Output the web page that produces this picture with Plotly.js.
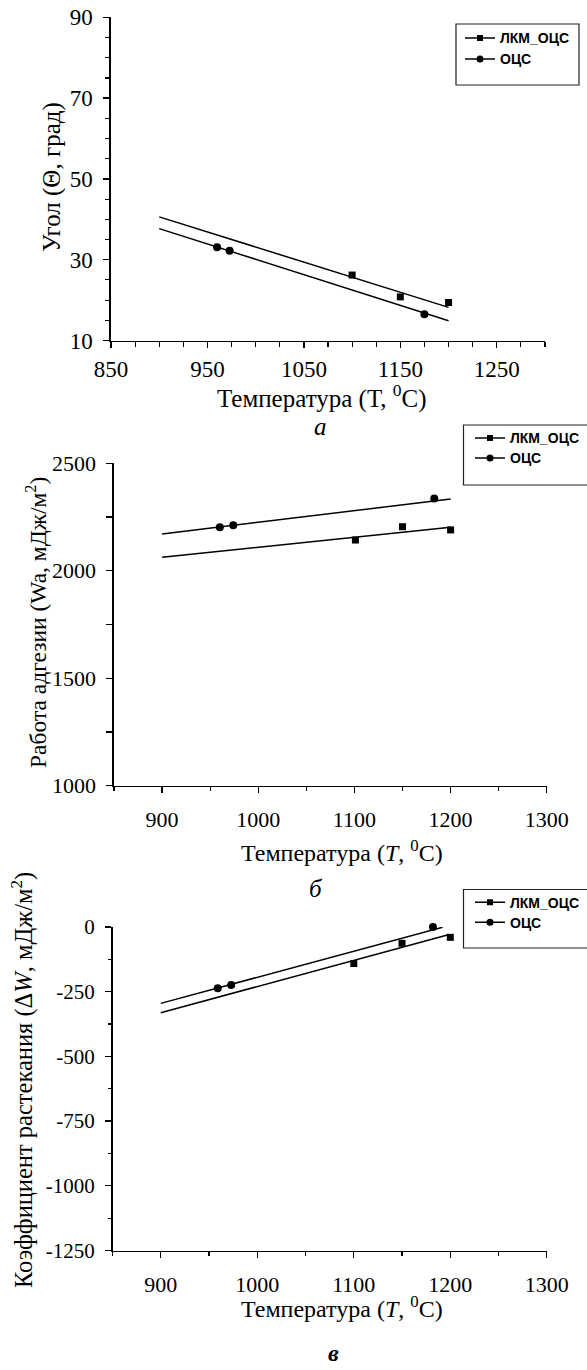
<!DOCTYPE html>
<html>
<head>
<meta charset="utf-8">
<script src="https://cdn.plot.ly/plotly-3.0.1.min.js"></script>
<style>
html,body{margin:0;padding:0;background:#fff;}
#chart{width:587px;height:1370px;}
</style>
</head>
<body>
<div id="chart"></div>
<script>
// ---------- Data ----------
const seriesNames = ["ЛКМ_ОЦС", "ОЦС"];

// Panel а: contact angle vs temperature
const tempA_lkm = [1100, 1150, 1200];
const angleA_lkm = [26.2, 20.8, 19.4];
const tempA_ocs = [960, 973, 1175];
const angleA_ocs = [33.1, 32.2, 16.5];
const fitTempA = [900, 1200];
const fitAngleA_lkm = [40.6, 18.2];
const fitAngleA_ocs = [37.7, 14.9];
const xTicksA = [850, 950, 1050, 1150, 1250];
const yTicksA = [10, 30, 50, 70, 90];

// Panel б: work of adhesion vs temperature
const tempB_lkm = [1101, 1150, 1200];
const waB_lkm = [2143, 2205, 2190];
const tempB_ocs = [960, 974, 1183];
const waB_ocs = [2202, 2212, 2336];
const fitTempB = [900, 1200];
const fitWaB_lkm = [2063, 2202];
const fitWaB_ocs = [2171, 2334];
const xTicksBC = [900, 1000, 1100, 1200, 1300];
const yTicksB = [1000, 1500, 2000, 2500];

// Panel в: spreading coefficient vs temperature
const tempC_lkm = [1100, 1150, 1200];
const dwC_lkm = [-141, -63, -40];
const tempC_ocs = [959, 973, 1182];
const dwC_ocs = [-237, -224, 0];
const fitTempC_lkm = [900, 1197];
const fitDwC_lkm = [-331, -31];
const fitTempC_ocs = [900, 1192];
const fitDwC_ocs = [-295, -1];
const yTicksC = [-1250, -1000, -750, -500, -250, 0];
const yLabelsC = ["-1250", "-1000", "-750", "-500", "-250", "0"];

// ---------- Helpers ----------
const W = 587, H = 1370;
const px = v => v / W;
const py = v => 1 - v / H;
const BLACK = "#000";

function panelTraces(xa, ya, lg1, lg2, lkmX, lkmY, ocsX, ocsY, fitLkmX, fitLkmY, fitOcsX, fitOcsY) {
  return [
    {x: fitLkmX, y: fitLkmY, xaxis: xa, yaxis: ya, mode: "lines", line: {color: BLACK, width: 1.5}, showlegend: false, hoverinfo: "skip"},
    {x: fitOcsX, y: fitOcsY, xaxis: xa, yaxis: ya, mode: "lines", line: {color: BLACK, width: 1.5}, showlegend: false, hoverinfo: "skip"},
    {x: lkmX, y: lkmY, xaxis: xa, yaxis: ya, mode: "markers", cliponaxis: false, marker: {symbol: "square", size: 7, color: BLACK}, showlegend: false, name: seriesNames[0]},
    {x: ocsX, y: ocsY, xaxis: xa, yaxis: ya, mode: "markers", cliponaxis: false, marker: {symbol: "circle", size: 8, color: BLACK}, showlegend: false, name: seriesNames[1]},
    // legend entries (line + marker), no data
    {x: [null], y: [null], xaxis: xa, yaxis: ya, mode: "lines+markers", name: seriesNames[0], legend: lg1,
     line: {color: BLACK, width: 1.5}, marker: {symbol: "square", size: 6, color: BLACK}},
    {x: [null], y: [null], xaxis: xa, yaxis: ya, mode: "lines+markers", name: seriesNames[1], legend: lg2,
     line: {color: BLACK, width: 1.5}, marker: {symbol: "circle", size: 7, color: BLACK}}
  ];
}

const data = [].concat(
  panelTraces("x", "y", "legend", "legend2", tempA_lkm, angleA_lkm, tempA_ocs, angleA_ocs, fitTempA, fitAngleA_lkm, fitTempA, fitAngleA_ocs),
  panelTraces("x2", "y2", "legend3", "legend4", tempB_lkm, waB_lkm, tempB_ocs, waB_ocs, fitTempB, fitWaB_lkm, fitTempB, fitWaB_ocs),
  panelTraces("x3", "y3", "legend5", "legend6", tempC_lkm, dwC_lkm, tempC_ocs, dwC_ocs, fitTempC_lkm, fitDwC_lkm, fitTempC_ocs, fitDwC_ocs)
);

const SERIF = "Liberation Serif, Times New Roman, serif";
const SANS = "Liberation Sans, Arial, sans-serif";

function axisBase(size, extra) {
  return Object.assign({
    showline: true, linecolor: BLACK, linewidth: 1.6,
    ticks: "outside", ticklen: 6, tickwidth: 1.3, tickcolor: BLACK,
    showgrid: false, zeroline: false, fixedrange: true,
    tickfont: {family: SERIF, size: size, color: BLACK}
  }, extra);
}

function minorTicks(dtick, tick0, len) {
  return {dtick: dtick, tick0: tick0, ticks: "outside", ticklen: len, tickcolor: BLACK, tickwidth: 1.2, showgrid: false};
}

function legendAt(x, y) {
  return {
    x: x, y: y, xanchor: "left", yanchor: "middle", xref: "paper", yref: "paper",
    bgcolor: "rgba(0,0,0,0)", borderwidth: 0,
    font: {family: SANS, size: 14, color: BLACK, weight: "bold"},
    itemclick: false, itemdoubleclick: false
  };
}

const layout = {
  width: W, height: H,
  margin: {l: 0, r: 0, t: 0, b: 0},
  paper_bgcolor: "#fff", plot_bgcolor: "#fff",
  font: {family: SERIF, color: BLACK},
  xaxis: axisBase(23, {domain: [px(111), px(545)], range: [850, 1300], anchor: "y",
    tickmode: "array", tickvals: xTicksA, ticktext: xTicksA.map(String), ticklabelstandoff: 1,
    minor: minorTicks(25, 850, 5)}),
  yaxis: axisBase(23, {domain: [py(340.5), py(17.3)], range: [10, 90], anchor: "x",
    tickmode: "array", tickvals: yTicksA, ticktext: yTicksA.map(String), ticklabelstandoff: 6,
    minor: minorTicks(5, 10, 4)}),
  xaxis2: axisBase(22, {domain: [px(114), px(546.8)], range: [850, 1300], anchor: "y2",
    tickmode: "array", tickvals: xTicksBC, ticktext: xTicksBC.map(String), ticklabelstandoff: 7,
    minor: minorTicks(50, 850, 4)}),
  yaxis2: axisBase(22, {domain: [py(785.7), py(463.3)], range: [1000, 2500], anchor: "x2",
    tickmode: "array", tickvals: yTicksB, ticktext: yTicksB.map(String), ticklabelstandoff: 6,
    minor: minorTicks(250, 1000, 6)}),
  xaxis3: axisBase(22, {domain: [px(112.5), px(546.8)], range: [850, 1300], anchor: "y3",
    tickmode: "array", tickvals: xTicksBC, ticktext: xTicksBC.map(String), ticklabelstandoff: 7,
    minor: minorTicks(50, 850, 4)}),
  yaxis3: axisBase(21, {domain: [py(1250.5), py(927)], range: [-1250, 0], anchor: "x3",
    tickmode: "array", tickvals: yTicksC, ticktext: yLabelsC, ticklabelstandoff: 6,
    minor: minorTicks(125, 0, 3)}),
  legend: legendAt(px(460), py(38.3)),
  legend2: legendAt(px(460), py(59.3)),
  legend3: legendAt(px(470), py(438.3)),
  legend4: legendAt(px(470), py(458.3)),
  legend5: legendAt(px(470), py(902.7)),
  legend6: legendAt(px(470), py(922.7)),
  shapes: [
    {type: "rect", xref: "paper", yref: "paper", x0: px(456), x1: px(579), y0: py(85), y1: py(24), line: {color: "#222", width: 1.2}},
    {type: "rect", xref: "paper", yref: "paper", x0: px(463.5), x1: px(590), y0: py(485), y1: py(425), line: {color: "#222", width: 1.2}},
    {type: "rect", xref: "paper", yref: "paper", x0: px(463.5), x1: px(590), y0: py(948), y1: py(889.5), line: {color: "#222", width: 1.2}}
  ],
  annotations: [
    // Panel а
    {text: "Угол (Θ, град)", textangle: -90, x: px(52), y: py(177), xref: "paper", yref: "paper", showarrow: false, xanchor: "center", yanchor: "middle", font: {family: SERIF, size: 25, color: BLACK}},
    {text: "Температура (T, <sup>0</sup>C)", x: px(322), y: py(396), xref: "paper", yref: "paper", showarrow: false, xanchor: "center", yanchor: "middle", font: {family: SERIF, size: 25, color: BLACK}},
    {text: "<i>а</i>", x: px(320), y: py(427), xref: "paper", yref: "paper", showarrow: false, xanchor: "center", yanchor: "middle", font: {family: SERIF, size: 25, color: BLACK}},
    // Panel б
    {text: "Работа адгезии (Wa, мДж/м<sup>2</sup>)", textangle: -90, x: px(36), y: py(623), xref: "paper", yref: "paper", showarrow: false, xanchor: "center", yanchor: "middle", font: {family: SERIF, size: 23.5, color: BLACK}},
    {text: "Температура (<i>T</i>, <sup>0</sup>C)", x: px(342), y: py(851), xref: "paper", yref: "paper", showarrow: false, xanchor: "center", yanchor: "middle", font: {family: SERIF, size: 24, color: BLACK}},
    {text: "<i>б</i>", x: px(316), y: py(888), xref: "paper", yref: "paper", showarrow: false, xanchor: "center", yanchor: "middle", font: {family: SERIF, size: 25, color: BLACK}},
    // Panel в
    {text: "Коэффициент растекания (Δ<i>W</i>, мДж/м<sup>2</sup>)", textangle: -90, x: px(22), y: py(1080), xref: "paper", yref: "paper", showarrow: false, xanchor: "center", yanchor: "middle", font: {family: SERIF, size: 24.5, color: BLACK}},
    {text: "Температура (<i>T</i>, <sup>0</sup>C)", x: px(342), y: py(1307), xref: "paper", yref: "paper", showarrow: false, xanchor: "center", yanchor: "middle", font: {family: SERIF, size: 24, color: BLACK}},
    {text: "<b><i>в</i></b>", x: px(333), y: py(1353), xref: "paper", yref: "paper", showarrow: false, xanchor: "center", yanchor: "middle", font: {family: SERIF, size: 24, color: BLACK}}
  ]
};

Plotly.newPlot("chart", data, layout, {staticPlot: true, displayModeBar: false});
</script>
</body>
</html>
